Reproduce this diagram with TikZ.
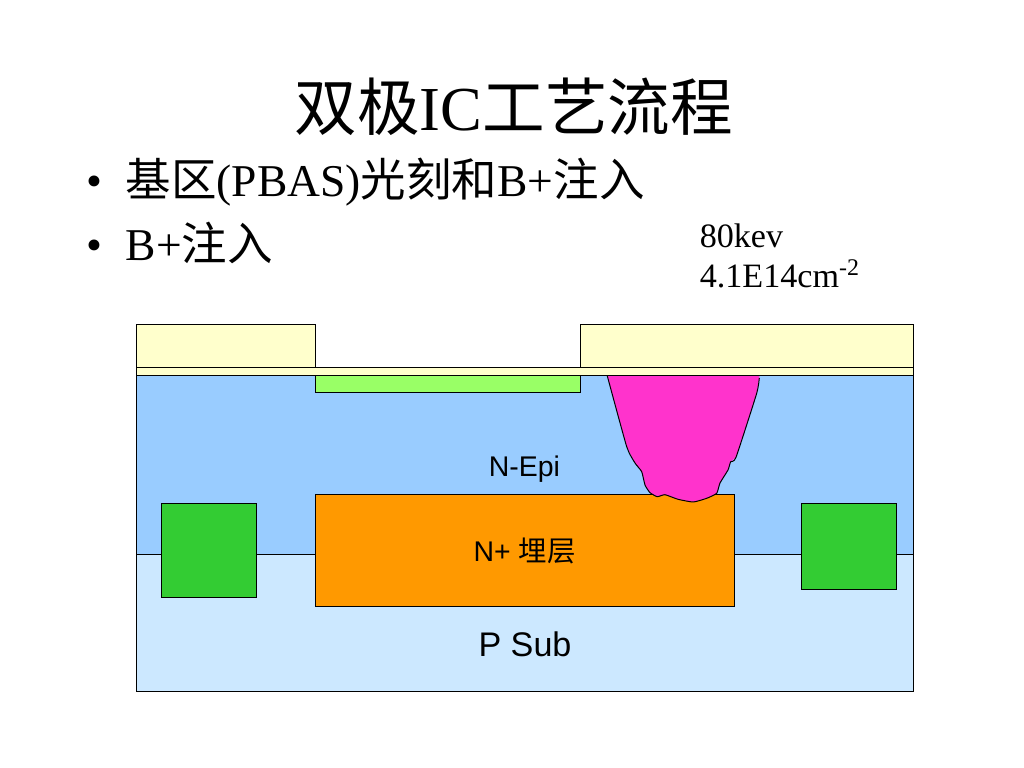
\documentclass[tikz,border=0pt]{standalone}
\usepackage{fontspec}
\setmainfont{Liberation Serif}
\setsansfont{Liberation Sans}
\newfontfamily\cjk{Noto Sans CJK SC}
\begin{document}
\begin{tikzpicture}
[x=0.703125pt,y=-0.703125pt,
  layerdecorate/.style={draw=black,line width=0.7pt},%
  textdecorate/.style={anchor=base west,inner sep=0pt},%
  labeldecorate/.style={anchor=base,inner sep=0pt,font=\sffamily}]
\definecolor{resistfill}{HTML}{FFFFCC}
\definecolor{epifill}{HTML}{99CCFF}
\definecolor{subfill}{HTML}{CCE8FF}
\definecolor{basefill}{HTML}{99FF66}
\definecolor{buriedfill}{HTML}{FF9900}
\definecolor{isofill}{HTML}{33CC33}
\definecolor{implantfill}{HTML}{FF33CC}
\useasboundingbox (0,0) rectangle (1024,768);
%% layers of the wafer
\foreach \colorname/\xa/\ya/\xb/\yb in {
  epifill/136.5/375/913.5/554, subfill/136.5/554/913.5/691,
  resistfill/136.5/367/913.5/375, basefill/315.5/375/580/392,
  buriedfill/315.5/494.5/734/606, isofill/161.5/503/256/597,
  isofill/801.5/503/896/589, resistfill/136.5/324/315.5/367,
  resistfill/580/324/913.5/367} {
  \draw[layerdecorate,fill=\colorname] (\xa,\ya) rectangle (\xb,\yb);
}
%% implanted region
\fill[implantfill] (607.3,376) -- (759.3,376) -- (759.3,378)
  -- (756.7,393.3) -- (736,457.3) -- (730.7,461.7) -- (728,470) -- (720,483)
  -- (716.7,493.3) -- (706.7,498.3) -- (693.3,502) -- (678,499.3) -- (665,494.7)
  -- (657.3,496.7) -- (650,492.7) -- (645,485) -- (641.7,471.7) -- (635,463)
  -- (626.7,446.7) -- cycle;
\draw[line width=0.7pt,line join=round] plot[smooth,tension=0.3] coordinates {
  (607.3,376) (626.7,446.7) (635,463) (641.7,471.7) (645,485) (650,492.7)
  (657.3,496.7) (665,494.7) (678,499.3) (693.3,502) (706.7,498.3) (716.7,493.3)
  (720,483) (728,470) (730.7,461.7) (736,457.3) (756.7,393.3) (759.3,378)};
%% title and bullets
\node (title) at (294.5,130.5) [textdecorate,font=\fontsize{44}{44}\selectfont]
  {{\cjk 双极}IC{\cjk 工艺流程}};
\node (bulleta) at (86,196.5) [textdecorate,font=\fontsize{32}{32}\selectfont] {•};
\node (bulletb) at (86,261) [textdecorate,font=\fontsize{32}{32}\selectfont] {•};
\node (linea) at (125.5,196.5) [textdecorate,font=\fontsize{32}{32}\selectfont]
  {{\cjk 基区}(PBAS){\cjk 光刻和}B+{\cjk 注入}};
\node (lineb) at (125.5,261) [textdecorate,font=\fontsize{32}{32}\selectfont]
  {B+{\cjk 注入}};
\node (energy) at (699.5,247.5) [textdecorate,font=\fontsize{24}{24}\selectfont] {80kev};
\node (dose) at (699.5,288) [textdecorate,font=\fontsize{24}{24}\selectfont]
  {4.1E14cm\textsuperscript{-2}};
%% region labels
\node (epilabel) at (524.5,476) [labeldecorate,font=\sffamily\fontsize{20}{20}\selectfont] {N-Epi};
\node (buriedlabel) at (524.5,561) [labeldecorate,font=\sffamily\fontsize{20}{20}\selectfont]
  {N+ {\cjk 埋层}};
\node (sublabel) at (525,656) [labeldecorate,font=\sffamily\fontsize{24}{24}\selectfont] {P Sub};
\end{tikzpicture}
\end{document}
